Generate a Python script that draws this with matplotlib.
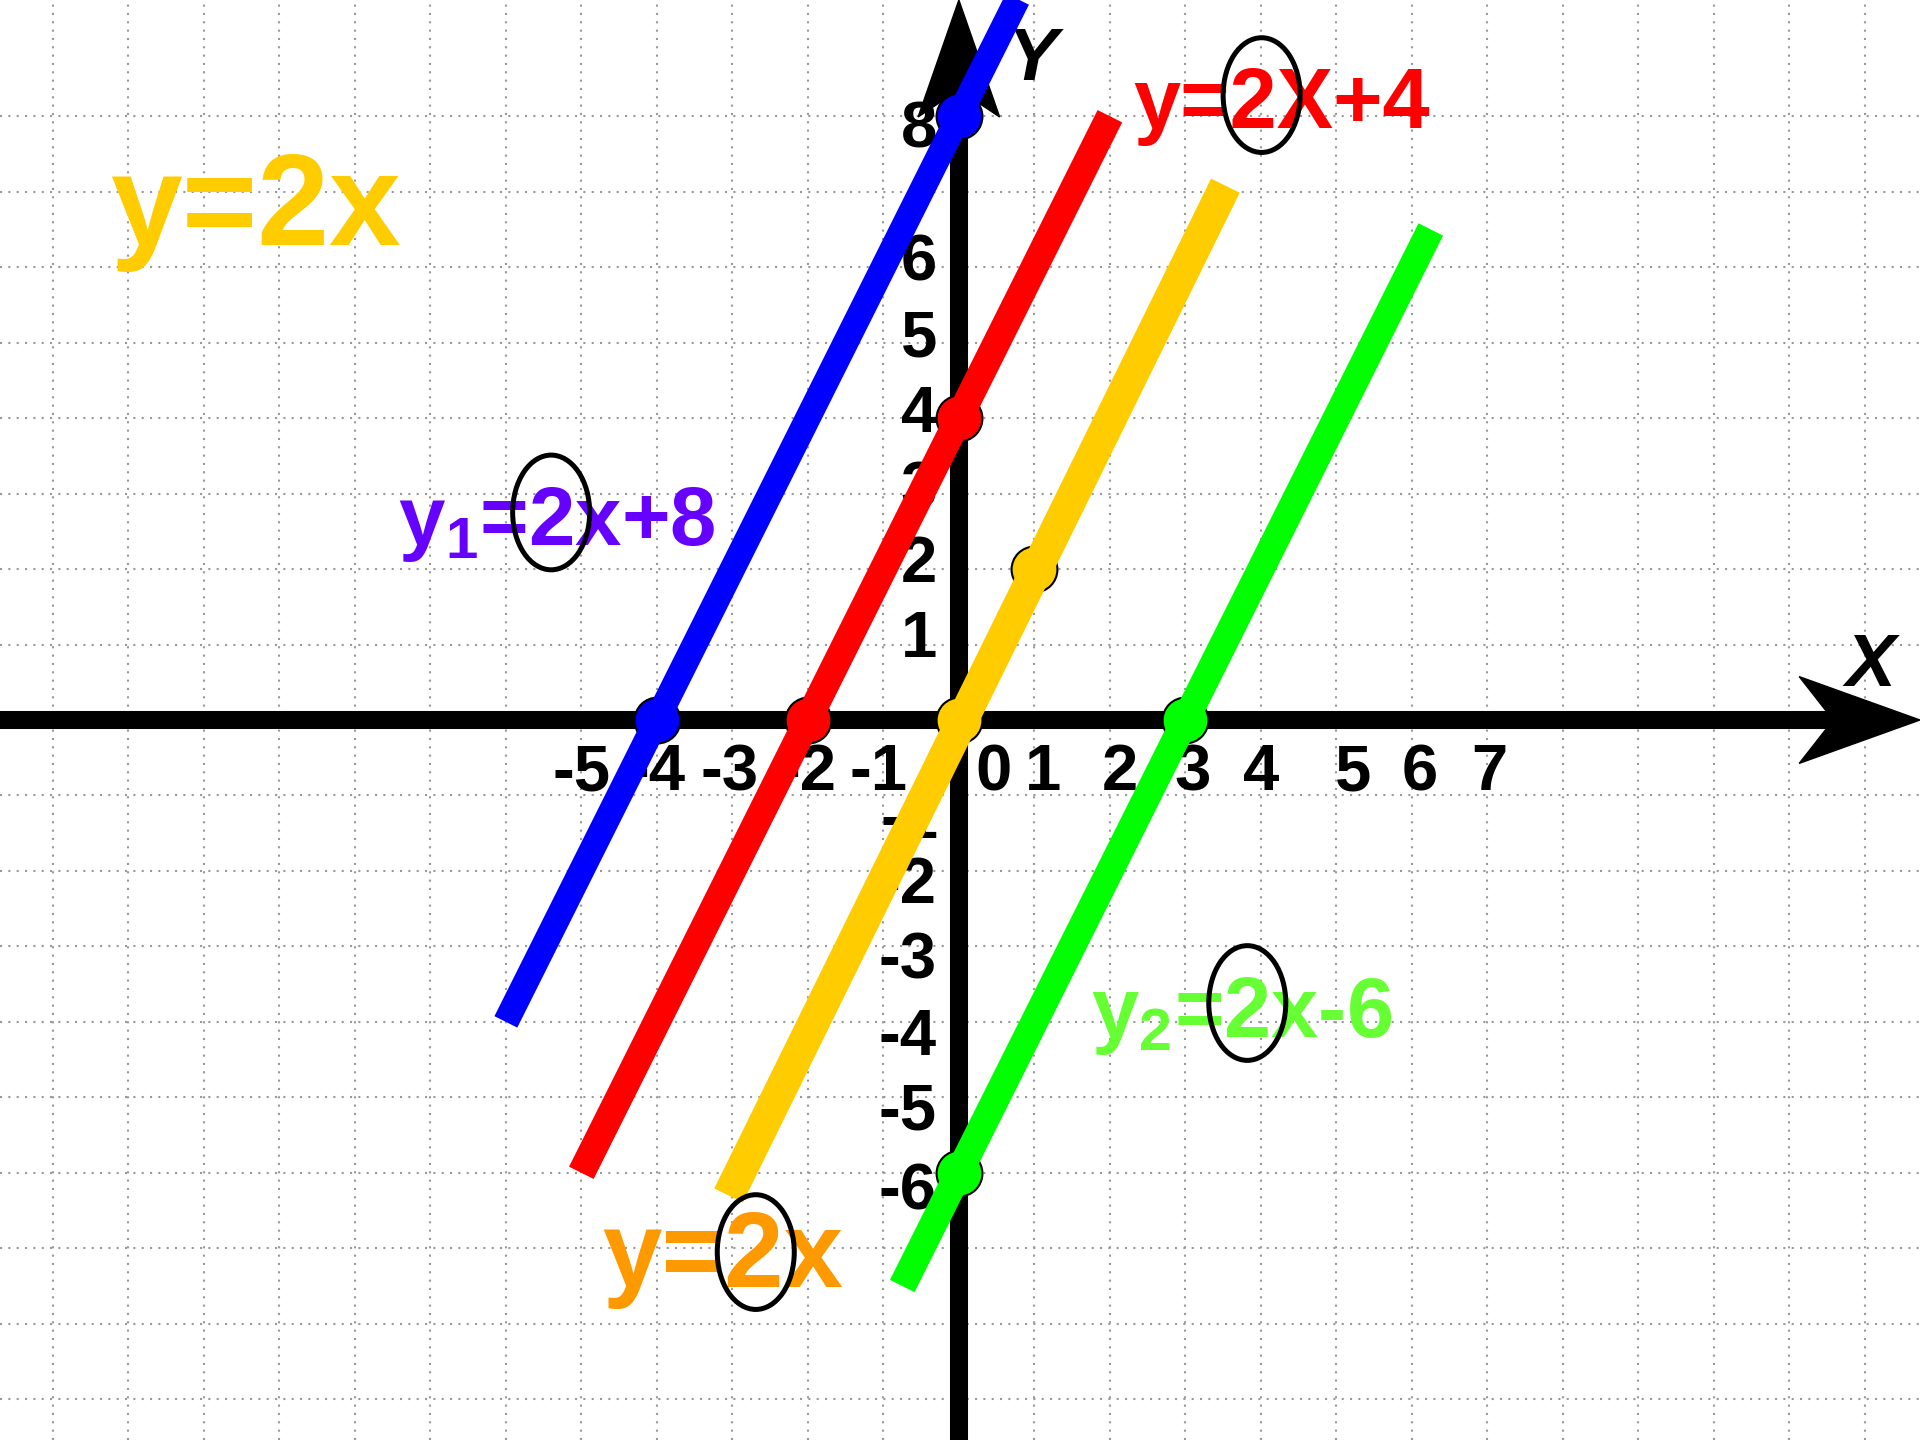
import matplotlib
matplotlib.use("Agg")
import matplotlib.pyplot as plt
from matplotlib.patches import Polygon, Ellipse

# line segments (end points)
blue_x = [-6.0, 0.9]
blue_y = [-4.0, 9.8]
red_x = [-5.0, 2.0]
red_y = [-6.0, 8.0]
yellow_x = [-3.05, 3.53]
yellow_y = [-6.3, 7.08]
green_x = [-0.75, 6.25]
green_y = [-7.5, 6.5]

# marked points on each line
blue_pts_x = [-4, 0]
blue_pts_y = [0, 8]
red_pts_x = [-2, 0]
red_pts_y = [0, 4]
yellow_pts_x = [0, 1]
yellow_pts_y = [0, 2]
green_pts_x = [3, 0]
green_pts_y = [0, -6]

# hand placed tick labels
xtick_labels = ['-5', '-4', '-3', '-2', '-1', '0', '1', '2', '3', '4', '5', '6', '7']
xtick_pos = [-5.0, -4.0, -3.04, -2.0, -1.06, 0.46, 1.12, 2.13, 3.09, 4.0, 5.22, 6.1, 7.03]
ytick_labels = ['8', '6', '5', '4', '3', '2', '1', '-1', '-2', '-3', '-4', '-5', '-6']
ytick_x = [-0.29] * 7 + [-0.27] + [-0.29] * 5
ytick_base = [7.59, 5.82, 4.82, 3.82, 2.82, 1.83, 0.83, -1.57, -2.42, -3.43, -4.44, -5.43, -6.49]

# equation captions
eq_texts = ['y=2x', 'y=2X+4', r'$\mathregular{y_1}$=2x+8', 'y=2x', r'$\mathregular{y_2}$=2x-6']
eq_colors = ['#FFCC00', '#FF0000', '#6600FF', '#FF9900', '#66FF33']
eq_x = [-9.31, 4.27, -5.33, -3.13, 3.75]
eq_y = [6.29, 7.85, 2.32, -7.51, -4.20]
eq_size = [93, 61, 60, 77, 61]

# circles around the slope
ring_x = [4.01, -5.40, -2.69, 3.82]
ring_y = [8.28, 2.75, -7.05, -3.75]

plt.rcParams['mathtext.fontset'] = 'custom'
plt.rcParams['mathtext.rm'] = 'Liberation Sans:bold'

fig = plt.figure(figsize=(19.2, 14.4), dpi=100)
ax = fig.add_axes([0, 0, 1, 1])
ax.set_xlim(-12.70, 12.73)
ax.set_ylim(-9.54, 9.54)
for s in ax.spines.values():
    s.set_visible(False)
ax.set_xticks(range(-12, 13))
ax.set_yticks(range(-9, 9))  # no row at y=9 in the picture
ax.tick_params(length=0, labelbottom=False, labelleft=False)
ax.grid(True, color='#999999', linestyle=(0, (1, 3)), linewidth=1.5, zorder=0)
ax.set_axisbelow(True)

tick_font = dict(family=['Liberation Sans Narrow', 'Liberation Sans'], fontweight='bold', fontsize=47)
for lab, px in zip(xtick_labels, xtick_pos):
    ax.text(px, -0.93, lab, ha='center', va='baseline', zorder=2, **tick_font)
for lab, px, py in zip(ytick_labels, ytick_x, ytick_base):
    ax.text(px, py, lab, ha='right', va='baseline', zorder=2, **tick_font)

# axes with arrows
ax.plot([-12.7, 11.6], [0, 0], color='black', lw=13, solid_capstyle='butt', zorder=3)
ax.plot([0, 0], [-9.54, 8.4], color='black', lw=13, solid_capstyle='butt', zorder=3)
ax.add_patch(Polygon([(12.73, 0), (11.13, 0.575), (11.58, 0), (11.13, -0.575)],
                     closed=True, color='black', zorder=3))
ax.add_patch(Polygon([(0, 9.54), (-0.54, 7.99), (0, 8.35), (0.54, 7.99)],
                     closed=True, color='black', zorder=3))
ax.text(12.08, 0.45, 'X', ha='center', va='baseline', fontsize=54, fontweight='bold',
        fontstyle='italic', family='Liberation Sans', zorder=3)
ax.text(0.98, 8.48, 'Y', ha='center', va='baseline', fontsize=54, fontweight='bold',
        fontstyle='italic', family='Liberation Sans', zorder=3)

lines = [(blue_x, blue_y, '#0000FF', 18.4), (red_x, red_y, '#FF0000', 19.8),
         (yellow_x, yellow_y, '#FFCC00', 23), (green_x, green_y, '#00FF00', 19.8)]
for lx, ly, c, w in lines:
    ax.plot(lx, ly, color=c, lw=w, solid_capstyle='butt', zorder=5)

pts = [(blue_pts_x, blue_pts_y, '#0000FF'), (red_pts_x, red_pts_y, '#FF0000'),
       (yellow_pts_x, yellow_pts_y, '#FFCC00'), (green_pts_x, green_pts_y, '#00FF00')]
for px, py, c in pts:
    ax.plot(px, py, 'o', ms=33, mfc=c, mec='black', mew=1.5, ls='none', zorder=4)

for t, c, x, y, fs in zip(eq_texts, eq_colors, eq_x, eq_y, eq_size):
    ax.text(x, y, t, color=c, fontsize=fs, fontweight='bold', family='Liberation Sans',
            ha='center', va='baseline', zorder=6)

for x, y in zip(ring_x, ring_y):
    ax.add_patch(Ellipse((x, y), 1.02, 1.52, fill=False, edgecolor='black', lw=3.6, zorder=7))

fig.savefig('out.png', dpi=100)
